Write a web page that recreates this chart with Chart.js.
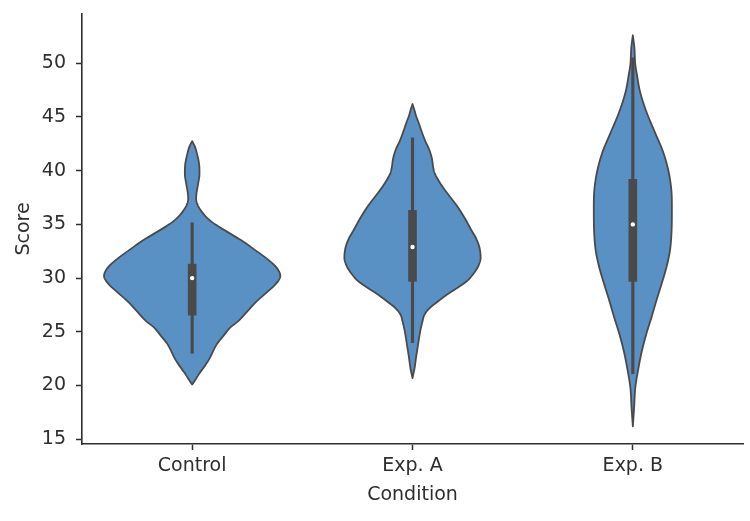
<!DOCTYPE html>
<html><head><meta charset="utf-8">
<script src="https://cdn.jsdelivr.net/npm/chart.js@4"></script>
<style>html,body{margin:0;padding:0;background:#fff}#wrap{width:750px;height:521px}</style>
</head><body><div id="wrap"><canvas id="c" width="750" height="521"></canvas></div>
<script>
// ---- data ----
const categories = ['Control', 'Exp. A', 'Exp. B'];
const yTicks = [15, 20, 25, 30, 35, 40, 45, 50];

// violin profiles: score level and relative density (1 = widest violin)
const controlScore = [42.75,42.3,41.5,40.5,39.7,38.8,37.9,37.35,36.8,36.25,35.6,35.0,34.2,33.45,32.6,31.7,31.0,30.2,29.4,28.8,27.8,26.9,26.0,25.4,24.6,23.9,22.3,21.1,20.5,20.1];
const controlDensity = [0,0.028,0.057,0.080,0.083,0.068,0.049,0.045,0.063,0.102,0.170,0.261,0.420,0.568,0.716,0.864,0.955,1.0,0.943,0.864,0.727,0.625,0.523,0.432,0.352,0.284,0.182,0.080,0.034,0];

const expAScore = [46.2,45.6,45.1,44.5,43.8,42.85,42.0,41.05,40.4,39.8,39.0,38.3,37.5,36.7,35.6,34.5,33.6,32.8,31.9,31.0,30.3,29.7,29.1,28.5,27.8,27.2,26.6,26.0,25.2,24.4,23.5,22.6,21.6,20.7];
const expADensity = [0,0.023,0.040,0.068,0.097,0.140,0.188,0.222,0.233,0.250,0.301,0.358,0.432,0.506,0.591,0.665,0.727,0.761,0.773,0.739,0.682,0.614,0.511,0.398,0.284,0.193,0.136,0.114,0.091,0.074,0.057,0.040,0.023,0];

const expBScore = [52.6,51.5,49.9,48.7,47.4,45.5,43.7,41.8,40.0,38.1,36.5,34.1,32.5,31.0,29.4,27.9,26.3,24.8,23.2,21.6,19.8,18.0,16.2];
const expBDensity = [0,0.017,0.028,0.051,0.080,0.153,0.244,0.341,0.403,0.438,0.443,0.438,0.420,0.381,0.324,0.267,0.210,0.153,0.102,0.063,0.028,0.015,0];

// inner box statistics
const boxQ1 = [26.55, 29.7, 29.7];
const boxQ3 = [31.3, 36.3, 39.2];
const medians = [30.0, 32.9, 35.0];
const whiskerLow = [23.0, 24.0, 21.1];
const whiskerHigh = [35.15, 43.06, 50.5];

// ---- styling ----
const FILL = '#5a91c4';
const EDGE = '#4a4a4a';
const TEXT = '#2e2e2e';
const FONT = 'DejaVu Sans';

const violinScores = [controlScore, expAScore, expBScore];
const violinDensities = [controlDensity, expADensity, expBDensity];

// monotone cubic (Fritsch-Carlson) curve through the read points, in pixel space
function monotoneSampler(xs, ys) {
  const n = xs.length;
  const d = [], m = new Array(n);
  for (let k = 0; k < n - 1; k++) d.push((ys[k + 1] - ys[k]) / (xs[k + 1] - xs[k]));
  m[0] = d[0]; m[n - 1] = d[n - 2];
  for (let k = 1; k < n - 1; k++) m[k] = (d[k - 1] * d[k] <= 0) ? 0 : (d[k - 1] + d[k]) / 2;
  for (let k = 0; k < n - 1; k++) {
    if (d[k] === 0) { m[k] = 0; m[k + 1] = 0; continue; }
    const a = m[k] / d[k], b = m[k + 1] / d[k], s = a * a + b * b;
    if (s > 9) { const t = 3 / Math.sqrt(s); m[k] = t * a * d[k]; m[k + 1] = t * b * d[k]; }
  }
  return function (x) {
    let k = 0;
    while (k < n - 2 && x > xs[k + 1]) k++;
    const h = xs[k + 1] - xs[k], t = (x - xs[k]) / h;
    const t2 = t * t, t3 = t2 * t;
    return (2 * t3 - 3 * t2 + 1) * ys[k] + (t3 - 2 * t2 + t) * h * m[k] +
           (-2 * t3 + 3 * t2) * ys[k + 1] + (t3 - t2) * h * m[k + 1];
  };
}

const violinPlugin = {
  id: 'violins',
  beforeDatasetsDraw(chart) {
    const {ctx, scales: {x, y}} = chart;
    const band = x.getPixelForValue(1) - x.getPixelForValue(0);
    const maxHalf = band * 0.4;
    ctx.save();
    categories.forEach((c, i) => {
      const cx = x.getPixelForValue(i);
      const sc = violinScores[i], dn = violinDensities[i];
      // pixel y ascending (top to bottom)
      const py = sc.map(v => y.getPixelForValue(v));
      const pw = dn.map(v => v * maxHalf);
      const f = monotoneSampler(py, pw);
      const y0 = py[0], y1 = py[py.length - 1];
      const pts = [];
      for (let yy = y0; yy < y1; yy += 0.5) pts.push([yy, Math.max(0, f(yy))]);
      pts.push([y1, 0]);
      ctx.beginPath();
      pts.forEach((p, k) => k ? ctx.lineTo(cx + p[1], p[0]) : ctx.moveTo(cx + p[1], p[0]));
      for (let k = pts.length - 1; k >= 0; k--) ctx.lineTo(cx - pts[k][1], pts[k][0]);
      ctx.closePath();
      ctx.fillStyle = FILL;
      ctx.fill();
      ctx.lineWidth = 1.8;
      ctx.strokeStyle = EDGE;
      ctx.lineJoin = 'round';
      ctx.stroke();
    });
    ctx.restore();
  }
};

new Chart(document.getElementById('c'), {
  type: 'bar',
  data: {
    labels: categories,
    datasets: [
      {
        label: 'whiskers',
        data: whiskerLow.map((v, i) => [v, whiskerHigh[i]]),
        backgroundColor: EDGE,
        barThickness: 2.5,
        grouped: false,
        borderWidth: 0,
        order: 3
      },
      {
        label: 'box',
        data: boxQ1.map((v, i) => [v, boxQ3[i]]),
        backgroundColor: EDGE,
        barThickness: 8,
        grouped: false,
        borderWidth: 0,
        order: 2
      },
      {
        type: 'line',
        label: 'median',
        data: medians,
        showLine: false,
        pointRadius: 2.2,
        pointBackgroundColor: '#ffffff',
        pointBorderWidth: 0,
        order: 1
      }
    ]
  },
  options: {
    responsive: false,
    animation: false,
    layout: {padding: {top: 14, right: 7, left: 0, bottom: 0}},
    plugins: {legend: {display: false}, tooltip: {enabled: false}},
    scales: {
      x: {
        type: 'category',
        offset: true,
        grid: {display: true, drawOnChartArea: false, drawTicks: true, tickLength: 6, tickWidth: 1.5, tickColor: TEXT, offset: false},
        border: {display: true, color: TEXT, width: 1.6},
        ticks: {color: TEXT, font: {family: FONT, size: 19}, padding: 5},
        title: {display: true, text: 'Condition', color: TEXT, font: {family: FONT, size: 19}, padding: {top: 0, bottom: 15}},
        afterFit(s) { s.height = 77; s.paddingLeft = 0; s.paddingRight = 0; }
      },
      y: {
        type: 'linear',
        min: 14.56,
        max: 54.58,
        afterBuildTicks(s) { s.ticks = yTicks.map(v => ({value: v})); },
        grid: {display: true, drawOnChartArea: false, drawTicks: true, tickLength: 6, tickWidth: 1.5, tickColor: TEXT},
        border: {display: true, color: TEXT, width: 1.6},
        ticks: {color: TEXT, font: {family: FONT, size: 19}, padding: 10},
        title: {display: true, text: 'Score', color: TEXT, font: {family: FONT, size: 19}, padding: {top: 13, bottom: 0}},
        afterFit(s) { s.width = 82; s.paddingTop = 0; s.paddingBottom = 0; }
      }
    }
  },
  plugins: [violinPlugin]
});
</script>
</body></html>
